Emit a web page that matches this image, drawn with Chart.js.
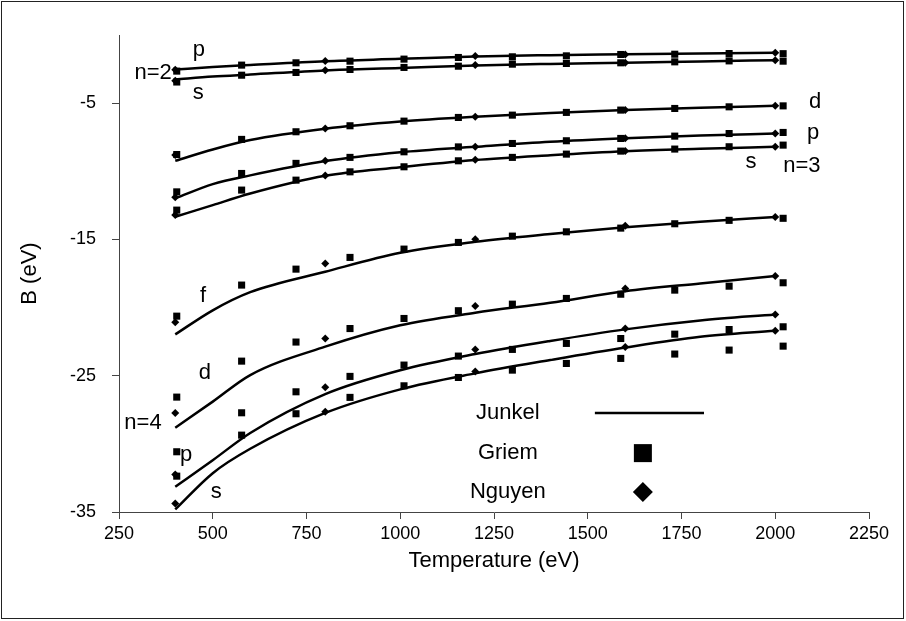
<!DOCTYPE html>
<html>
<head>
<meta charset="utf-8">
<script src="https://cdn.jsdelivr.net/npm/chart.js@4.4.0/dist/chart.umd.min.js"></script>
<style>
  html, body { margin: 0; padding: 0; background: #fff; }
  #wrap { width: 906px; height: 621px; position: relative; }
</style>
</head>
<body>
<div id="wrap"><canvas id="myChart"></canvas></div>
<script>
// temperatures (eV)
var junkelT = [400, 500, 600, 800, 1000, 1200, 1400, 1600, 1800, 2000];
var griemT = [404, 577, 722, 866, 1010, 1155, 1299, 1443, 1588, 1732, 1877, 2021];
var nguyenT = [400, 800, 1200, 1600, 2000];

// Junkel curves, B (eV)
var jN2p = [-2.53, -2.35, -2.2, -1.92, -1.75, -1.57, -1.48, -1.42, -1.36, -1.31];
var jN2s = [-3.26, -3.05, -2.9, -2.6, -2.42, -2.23, -2.12, -2.04, -1.94, -1.85];
var jN3d = [-9.23, -8.4, -7.71, -6.88, -6.35, -6.0, -5.73, -5.51, -5.33, -5.2];
var jN3p = [-11.99, -10.94, -10.3, -9.25, -8.6, -8.2, -7.83, -7.57, -7.37, -7.23];
var jN3s = [-13.34, -12.48, -11.63, -10.33, -9.7, -9.17, -8.82, -8.53, -8.35, -8.2];
var jN4f = [-21.97, -20.2, -18.87, -17.37, -15.98, -15.17, -14.6, -14.1, -13.7, -13.36];
var jN4d = [-28.82, -26.9, -24.95, -22.87, -21.3, -20.38, -19.65, -18.8, -18.23, -17.69];
var jN4p = [-33.15, -31.2, -29.2, -26.35, -24.6, -23.41, -22.45, -21.6, -20.95, -20.5];
var jN4s = [-34.81, -32.15, -30.36, -27.73, -26.0, -24.83, -23.85, -22.93, -22.14, -21.7];

// Griem points
var gN2p = [-2.65, -2.21, -2.04, -1.92, -1.77, -1.65, -1.6, -1.53, -1.43, -1.41, -1.36, -1.37];
var gN2s = [-3.45, -2.95, -2.75, -2.53, -2.38, -2.29, -2.14, -2.09, -2.04, -1.97, -1.9, -1.92];
var gN3d = [-8.77, -7.66, -7.1, -6.66, -6.32, -6.05, -5.88, -5.68, -5.51, -5.39, -5.27, -5.2];
var gN3p = [-11.51, -10.16, -9.42, -8.98, -8.57, -8.21, -7.96, -7.76, -7.59, -7.42, -7.23, -7.15];
var gN3s = [-12.85, -11.38, -10.65, -10.04, -9.67, -9.23, -8.98, -8.74, -8.52, -8.37, -8.2, -8.08];
var gN4f = [-20.63, -18.35, -17.18, -16.32, -15.71, -15.22, -14.76, -14.44, -14.17, -13.85, -13.6, -13.45];
var gN4d = [-26.57, -23.93, -22.53, -21.54, -20.8, -20.23, -19.75, -19.33, -19.02, -18.72, -18.43, -18.18];
var gN4p = [-30.58, -27.72, -26.18, -25.05, -24.22, -23.56, -23.07, -22.63, -22.27, -21.95, -21.61, -21.41];
var gN4s = [-32.37, -29.36, -27.79, -26.59, -25.74, -25.13, -24.59, -24.1, -23.73, -23.41, -23.12, -22.83];

// Nguyen points
var nN2p = [-2.55, -1.9, -1.54, -1.43, -1.31];
var nN2s = [-3.35, -2.58, -2.21, -2.04, -1.85];
var nN3d = [-8.8, -6.86, -6.0, -5.5, -5.2];
var nN3p = [-11.9, -9.23, -8.2, -7.57, -7.23];
var nN3s = [-13.2, -10.31, -9.15, -8.52, -8.2];
var nN4f = [-21.07, -16.76, -14.98, -14.0, -13.36];
var nN4d = [-27.74, -22.27, -19.89, -18.6, -17.69];
var nN4p = [-32.24, -25.84, -23.07, -21.54, -20.5];
var nN4s = [-34.37, -27.64, -24.69, -22.9, -21.7];

var yTicks = [-35, -25, -15, -5];

// curve labels, placed in data units
var notes = [
  { text: "p", x: 463, y: -1.1 },
  { text: "n=2", x: 341, y: -2.8 },
  { text: "s", x: 461, y: -4.27 },
  { text: "d", x: 2106, y: -4.93 },
  { text: "p", x: 2101, y: -7.2 },
  { text: "s", x: 1935, y: -9.33 },
  { text: "n=3", x: 2071, y: -9.62 },
  { text: "f", x: 474, y: -19.16 },
  { text: "d", x: 479, y: -24.8 },
  { text: "n=4", x: 314, y: -28.48 },
  { text: "p", x: 429, y: -30.83 },
  { text: "s", x: 509, y: -33.54 }
];

var FONT = "'Liberation Sans', Arial, sans-serif";
Chart.defaults.font.family = FONT;
Chart.defaults.color = "#000";

function pts(xs, ys) {
  return xs.map(function (t, i) { return { x: t, y: ys[i] }; });
}

var junkel = [jN2p, jN2s, jN3d, jN3p, jN3s, jN4f, jN4d, jN4p, jN4s];
var griem = [gN2p, gN2s, gN3d, gN3p, gN3s, gN4f, gN4d, gN4p, gN4s];
var nguyen = [nN2p, nN2s, nN3d, nN3p, nN3s, nN4f, nN4d, nN4p, nN4s];

var datasets = [];
griem.forEach(function (g) {
  datasets.push({
    label: "Griem", data: pts(griemT, g), showLine: false,
    pointStyle: "rect", pointRadius: 5, pointHoverRadius: 5,
    backgroundColor: "#000", borderColor: "#000", borderWidth: 0, order: 0
  });
});
nguyen.forEach(function (n) {
  datasets.push({
    label: "Nguyen", data: pts(nguyenT, n), showLine: false,
    pointStyle: "rectRot", pointRadius: 4, pointHoverRadius: 4,
    backgroundColor: "#000", borderColor: "#000", borderWidth: 0, order: 0
  });
});
junkel.forEach(function (j) {
  datasets.push({
    label: "Junkel", data: pts(junkelT, j), showLine: true,
    pointRadius: 0, borderColor: "#000", borderWidth: 2.5,
    cubicInterpolationMode: "monotone", fill: false, order: 1
  });
});

var deco = {
  id: "deco",
  beforeDraw: function (chart) {
    var ctx = chart.ctx;
    ctx.save();
    ctx.fillStyle = "#fff";
    ctx.fillRect(0, 0, chart.width, chart.height);
    ctx.restore();
  },
  afterDraw: function (chart) {
    var ctx = chart.ctx, xs = chart.scales.x, ys = chart.scales.y;
    ctx.save();
    ctx.strokeStyle = "#222";
    ctx.lineWidth = 1;
    ctx.strokeRect(1.5, 1.5, chart.width - 4, chart.height - 4);

    ctx.fillStyle = "#000";
    ctx.font = "22px " + FONT;
    ctx.textAlign = "center";
    ctx.textBaseline = "middle";
    notes.forEach(function (n) {
      ctx.fillText(n.text, xs.getPixelForValue(n.x), ys.getPixelForValue(n.y));
    });

    // legend
    var tx = xs.getPixelForValue(1287);
    var sx = xs.getPixelForValue(1647);
    var y1 = ys.getPixelForValue(-27.74), y2 = ys.getPixelForValue(-30.68), y3 = ys.getPixelForValue(-33.54);
    ctx.font = "22px " + FONT;
    ctx.fillText("Junkel", tx, y1);
    ctx.fillText("Griem", tx, y2);
    ctx.fillText("Nguyen", tx, y3);
    ctx.lineWidth = 2.5;
    ctx.strokeStyle = "#000";
    ctx.beginPath();
    ctx.moveTo(xs.getPixelForValue(1519), y1);
    ctx.lineTo(xs.getPixelForValue(1810), y1);
    ctx.stroke();
    ctx.fillRect(sx - 9, y2 - 9, 18, 18);
    ctx.beginPath();
    ctx.moveTo(sx, y3 - 10);
    ctx.lineTo(sx + 10, y3);
    ctx.lineTo(sx, y3 + 10);
    ctx.lineTo(sx - 10, y3);
    ctx.closePath();
    ctx.fill();
    ctx.restore();
  }
};

var ctx = document.getElementById("myChart");
var myChart = new Chart(ctx, {
  type: "scatter",
  data: { datasets: datasets },
  plugins: [deco],
  options: {
    responsive: true,
    maintainAspectRatio: false,
    animation: false,
    layout: { padding: { left: 0, right: 37, top: 35, bottom: 0 } },
    plugins: { legend: { display: false }, tooltip: { enabled: false } },
    scales: {
      x: {
        type: "linear", min: 250, max: 2250,
        ticks: {
          stepSize: 250, font: { size: 18 }, padding: 4, maxRotation: 0, autoSkip: false,
          callback: function (v) { return String(v); }
        },
        grid: { drawOnChartArea: false, drawTicks: true, tickLength: 7, color: "#444" },
        border: { display: true, color: "#444", width: 1 },
        title: { display: true, text: "Temperature (eV)", font: { size: 22 }, padding: { top: 0, bottom: 47 } },
        afterFit: function (s) { s.height = 109; }
      },
      y: {
        type: "linear", min: -35, max: 0,
        afterBuildTicks: function (s) { s.ticks = yTicks.map(function (v) { return { value: v }; }); },
        ticks: { font: { size: 18 }, padding: 16, callback: function (v) { return String(v); } },
        grid: { drawOnChartArea: false, drawTicks: true, tickLength: 7, color: "#444" },
        border: { display: true, color: "#444", width: 1 },
        title: { display: true, text: "B (eV)", font: { size: 22 }, padding: { top: 17, bottom: 0 } },
        afterFit: function (s) { s.width = 119; }
      }
    }
  }
});
</script>
</body>
</html>
